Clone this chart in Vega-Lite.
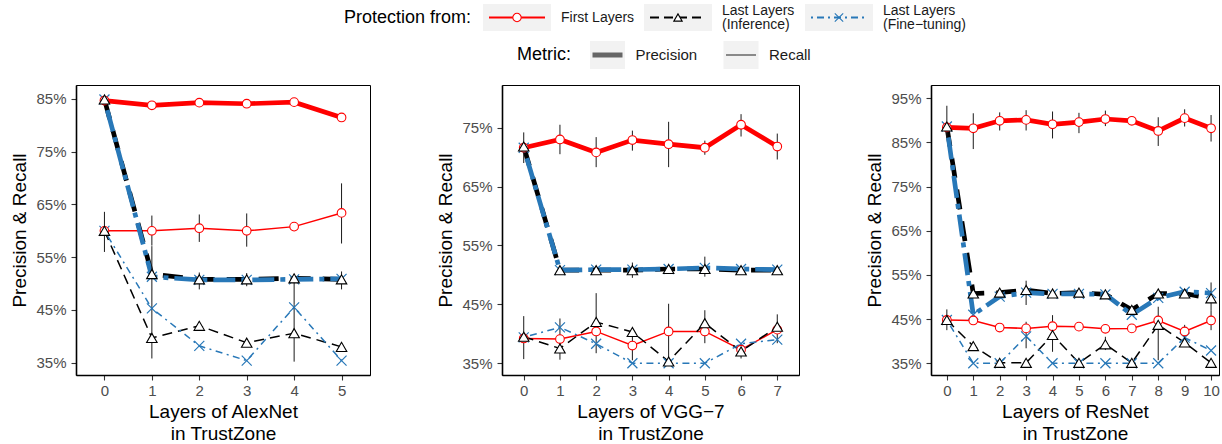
{
  "$schema": "https://vega.github.io/schema/vega-lite/v6.json",
  "background": "white",
  "padding": {"left": 10, "top": 3, "right": 0, "bottom": 0},
  "config": {
    "font": "Liberation Sans",
    "view": {"stroke": "black", "strokeWidth": 1},
    "axis": {"grid": false, "labelFont": "Liberation Sans", "titleFont": "Liberation Sans", "labelFontSize": 15, "labelColor": "#4D4D4D", "titleFontSize": 19, "titleFontWeight": "normal", "titleColor": "black", "tickColor": "#333333", "tickSize": 5, "tickWidth": 1.1, "domainColor": "black", "domainWidth": 1.6, "labelPadding": 3},
    "axisX": {"titlePadding": 4, "titleLineHeight": 22},
    "axisY": {"titlePadding": 6, "labelPadding": 5},
    "text": {"font": "Liberation Sans"}
  },
  "datasets": {
    "results": [
      {"net":"AlexNet","layer":0,"protection":"First Layers","metric":"Precision","value":84.7},
      {"net":"AlexNet","layer":1,"protection":"First Layers","metric":"Precision","value":83.8},
      {"net":"AlexNet","layer":2,"protection":"First Layers","metric":"Precision","value":84.3},
      {"net":"AlexNet","layer":3,"protection":"First Layers","metric":"Precision","value":84.1},
      {"net":"AlexNet","layer":4,"protection":"First Layers","metric":"Precision","value":84.4},
      {"net":"AlexNet","layer":5,"protection":"First Layers","metric":"Precision","value":81.5},
      {"net":"AlexNet","layer":0,"protection":"Last Layers (Inference)","metric":"Precision","value":84.9},
      {"net":"AlexNet","layer":1,"protection":"Last Layers (Inference)","metric":"Precision","value":51.8,"low":46.5,"high":57.1},
      {"net":"AlexNet","layer":2,"protection":"Last Layers (Inference)","metric":"Precision","value":50.8,"low":48.9,"high":52.1},
      {"net":"AlexNet","layer":3,"protection":"Last Layers (Inference)","metric":"Precision","value":50.8,"low":49.5,"high":52.0},
      {"net":"AlexNet","layer":4,"protection":"Last Layers (Inference)","metric":"Precision","value":51.0,"low":46.0,"high":51.5},
      {"net":"AlexNet","layer":5,"protection":"Last Layers (Inference)","metric":"Precision","value":50.8,"low":48.9,"high":52.3},
      {"net":"AlexNet","layer":0,"protection":"Last Layers (Fine-tuning)","metric":"Precision","value":84.9},
      {"net":"AlexNet","layer":1,"protection":"Last Layers (Fine-tuning)","metric":"Precision","value":51.3},
      {"net":"AlexNet","layer":2,"protection":"Last Layers (Fine-tuning)","metric":"Precision","value":50.7},
      {"net":"AlexNet","layer":3,"protection":"Last Layers (Fine-tuning)","metric":"Precision","value":50.7},
      {"net":"AlexNet","layer":4,"protection":"Last Layers (Fine-tuning)","metric":"Precision","value":50.8},
      {"net":"AlexNet","layer":5,"protection":"Last Layers (Fine-tuning)","metric":"Precision","value":50.9},
      {"net":"AlexNet","layer":0,"protection":"First Layers","metric":"Recall","value":60.0,"low":56.0,"high":63.6},
      {"net":"AlexNet","layer":1,"protection":"First Layers","metric":"Recall","value":60.0,"low":57.2,"high":62.9},
      {"net":"AlexNet","layer":2,"protection":"First Layers","metric":"Recall","value":60.5,"low":57.9,"high":63.1},
      {"net":"AlexNet","layer":3,"protection":"First Layers","metric":"Recall","value":60.0,"low":57.0,"high":63.3},
      {"net":"AlexNet","layer":4,"protection":"First Layers","metric":"Recall","value":60.8},
      {"net":"AlexNet","layer":5,"protection":"First Layers","metric":"Recall","value":63.4,"low":57.6,"high":69.0},
      {"net":"AlexNet","layer":0,"protection":"Last Layers (Inference)","metric":"Recall","value":60.0},
      {"net":"AlexNet","layer":1,"protection":"Last Layers (Inference)","metric":"Recall","value":39.7,"low":35.8,"high":46.5},
      {"net":"AlexNet","layer":2,"protection":"Last Layers (Inference)","metric":"Recall","value":42.0},
      {"net":"AlexNet","layer":3,"protection":"Last Layers (Inference)","metric":"Recall","value":38.8},
      {"net":"AlexNet","layer":4,"protection":"Last Layers (Inference)","metric":"Recall","value":40.6,"low":35.2,"high":46.0},
      {"net":"AlexNet","layer":5,"protection":"Last Layers (Inference)","metric":"Recall","value":38.0},
      {"net":"AlexNet","layer":0,"protection":"Last Layers (Fine-tuning)","metric":"Recall","value":60.0},
      {"net":"AlexNet","layer":1,"protection":"Last Layers (Fine-tuning)","metric":"Recall","value":45.3},
      {"net":"AlexNet","layer":2,"protection":"Last Layers (Fine-tuning)","metric":"Recall","value":38.2},
      {"net":"AlexNet","layer":3,"protection":"Last Layers (Fine-tuning)","metric":"Recall","value":35.4},
      {"net":"AlexNet","layer":4,"protection":"Last Layers (Fine-tuning)","metric":"Recall","value":45.5},
      {"net":"AlexNet","layer":5,"protection":"Last Layers (Fine-tuning)","metric":"Recall","value":35.4},

      {"net":"VGG","layer":0,"protection":"First Layers","metric":"Precision","value":71.6,"low":69.0,"high":74.2},
      {"net":"VGG","layer":1,"protection":"First Layers","metric":"Precision","value":73.0,"low":70.5,"high":75.5},
      {"net":"VGG","layer":2,"protection":"First Layers","metric":"Precision","value":70.8,"low":68.3,"high":73.4},
      {"net":"VGG","layer":3,"protection":"First Layers","metric":"Precision","value":72.9,"low":71.1,"high":74.5},
      {"net":"VGG","layer":4,"protection":"First Layers","metric":"Precision","value":72.2,"low":68.3,"high":76.0},
      {"net":"VGG","layer":5,"protection":"First Layers","metric":"Precision","value":71.6,"low":70.4,"high":72.8},
      {"net":"VGG","layer":6,"protection":"First Layers","metric":"Precision","value":75.5,"low":73.5,"high":77.3},
      {"net":"VGG","layer":7,"protection":"First Layers","metric":"Precision","value":71.8,"low":69.6,"high":74.0},
      {"net":"VGG","layer":0,"protection":"Last Layers (Inference)","metric":"Precision","value":71.8},
      {"net":"VGG","layer":1,"protection":"Last Layers (Inference)","metric":"Precision","value":50.8},
      {"net":"VGG","layer":2,"protection":"Last Layers (Inference)","metric":"Precision","value":50.8},
      {"net":"VGG","layer":3,"protection":"Last Layers (Inference)","metric":"Precision","value":50.8,"low":49.5,"high":52.1},
      {"net":"VGG","layer":4,"protection":"Last Layers (Inference)","metric":"Precision","value":51.0},
      {"net":"VGG","layer":5,"protection":"Last Layers (Inference)","metric":"Precision","value":51.0,"low":49.7,"high":53.1},
      {"net":"VGG","layer":6,"protection":"Last Layers (Inference)","metric":"Precision","value":50.8},
      {"net":"VGG","layer":7,"protection":"Last Layers (Inference)","metric":"Precision","value":50.8},
      {"net":"VGG","layer":0,"protection":"Last Layers (Fine-tuning)","metric":"Precision","value":71.6},
      {"net":"VGG","layer":1,"protection":"Last Layers (Fine-tuning)","metric":"Precision","value":50.8},
      {"net":"VGG","layer":2,"protection":"Last Layers (Fine-tuning)","metric":"Precision","value":50.9},
      {"net":"VGG","layer":3,"protection":"Last Layers (Fine-tuning)","metric":"Precision","value":50.9},
      {"net":"VGG","layer":4,"protection":"Last Layers (Fine-tuning)","metric":"Precision","value":51.0},
      {"net":"VGG","layer":5,"protection":"Last Layers (Fine-tuning)","metric":"Precision","value":51.2},
      {"net":"VGG","layer":6,"protection":"Last Layers (Fine-tuning)","metric":"Precision","value":51.0},
      {"net":"VGG","layer":7,"protection":"Last Layers (Fine-tuning)","metric":"Precision","value":50.9},
      {"net":"VGG","layer":0,"protection":"First Layers","metric":"Recall","value":39.2},
      {"net":"VGG","layer":1,"protection":"First Layers","metric":"Recall","value":39.1},
      {"net":"VGG","layer":2,"protection":"First Layers","metric":"Recall","value":40.4},
      {"net":"VGG","layer":3,"protection":"First Layers","metric":"Recall","value":38.0,"low":35.5,"high":40.5},
      {"net":"VGG","layer":4,"protection":"First Layers","metric":"Recall","value":40.4},
      {"net":"VGG","layer":5,"protection":"First Layers","metric":"Recall","value":40.4},
      {"net":"VGG","layer":6,"protection":"First Layers","metric":"Recall","value":37.3},
      {"net":"VGG","layer":7,"protection":"First Layers","metric":"Recall","value":40.7},
      {"net":"VGG","layer":0,"protection":"Last Layers (Inference)","metric":"Recall","value":39.5,"low":35.7,"high":43.0},
      {"net":"VGG","layer":1,"protection":"Last Layers (Inference)","metric":"Recall","value":37.5,"low":35.6,"high":42.6},
      {"net":"VGG","layer":2,"protection":"Last Layers (Inference)","metric":"Recall","value":42.0,"low":36.7,"high":46.9},
      {"net":"VGG","layer":3,"protection":"Last Layers (Inference)","metric":"Recall","value":40.3},
      {"net":"VGG","layer":4,"protection":"Last Layers (Inference)","metric":"Recall","value":35.3,"low":34.7,"high":45.1},
      {"net":"VGG","layer":5,"protection":"Last Layers (Inference)","metric":"Recall","value":41.8,"low":38.4,"high":44.0},
      {"net":"VGG","layer":6,"protection":"Last Layers (Inference)","metric":"Recall","value":37.0,"low":35.8,"high":37.8},
      {"net":"VGG","layer":7,"protection":"Last Layers (Inference)","metric":"Recall","value":41.2,"low":38.4,"high":43.3},
      {"net":"VGG","layer":0,"protection":"Last Layers (Fine-tuning)","metric":"Recall","value":39.4},
      {"net":"VGG","layer":1,"protection":"Last Layers (Fine-tuning)","metric":"Recall","value":41.1},
      {"net":"VGG","layer":2,"protection":"Last Layers (Fine-tuning)","metric":"Recall","value":38.3},
      {"net":"VGG","layer":3,"protection":"Last Layers (Fine-tuning)","metric":"Recall","value":35.0},
      {"net":"VGG","layer":4,"protection":"Last Layers (Fine-tuning)","metric":"Recall","value":35.0},
      {"net":"VGG","layer":5,"protection":"Last Layers (Fine-tuning)","metric":"Recall","value":35.0},
      {"net":"VGG","layer":6,"protection":"Last Layers (Fine-tuning)","metric":"Recall","value":38.3},
      {"net":"VGG","layer":7,"protection":"Last Layers (Fine-tuning)","metric":"Recall","value":39.0},

      {"net":"ResNet","layer":0,"protection":"First Layers","metric":"Precision","value":88.4,"low":86.0,"high":93.3},
      {"net":"ResNet","layer":1,"protection":"First Layers","metric":"Precision","value":88.2,"low":83.5,"high":91.6},
      {"net":"ResNet","layer":2,"protection":"First Layers","metric":"Precision","value":89.9,"low":87.7,"high":91.8},
      {"net":"ResNet","layer":3,"protection":"First Layers","metric":"Precision","value":90.1,"low":87.7,"high":92.3},
      {"net":"ResNet","layer":4,"protection":"First Layers","metric":"Precision","value":89.1,"low":85.9,"high":92.0},
      {"net":"ResNet","layer":5,"protection":"First Layers","metric":"Precision","value":89.6,"low":87.1,"high":91.7},
      {"net":"ResNet","layer":6,"protection":"First Layers","metric":"Precision","value":90.3,"low":88.7,"high":92.2},
      {"net":"ResNet","layer":7,"protection":"First Layers","metric":"Precision","value":89.9},
      {"net":"ResNet","layer":8,"protection":"First Layers","metric":"Precision","value":87.6,"low":84.2,"high":90.7},
      {"net":"ResNet","layer":9,"protection":"First Layers","metric":"Precision","value":90.5,"low":88.6,"high":92.5},
      {"net":"ResNet","layer":10,"protection":"First Layers","metric":"Precision","value":88.2,"low":85.2,"high":91.2},
      {"net":"ResNet","layer":0,"protection":"Last Layers (Inference)","metric":"Precision","value":88.6},
      {"net":"ResNet","layer":1,"protection":"Last Layers (Inference)","metric":"Precision","value":50.8},
      {"net":"ResNet","layer":2,"protection":"Last Layers (Inference)","metric":"Precision","value":51.0},
      {"net":"ResNet","layer":3,"protection":"Last Layers (Inference)","metric":"Precision","value":51.6,"low":48.2,"high":53.7},
      {"net":"ResNet","layer":4,"protection":"Last Layers (Inference)","metric":"Precision","value":50.8},
      {"net":"ResNet","layer":5,"protection":"Last Layers (Inference)","metric":"Precision","value":51.0},
      {"net":"ResNet","layer":6,"protection":"Last Layers (Inference)","metric":"Precision","value":50.6},
      {"net":"ResNet","layer":7,"protection":"Last Layers (Inference)","metric":"Precision","value":47.1},
      {"net":"ResNet","layer":8,"protection":"Last Layers (Inference)","metric":"Precision","value":50.8},
      {"net":"ResNet","layer":9,"protection":"Last Layers (Inference)","metric":"Precision","value":50.8},
      {"net":"ResNet","layer":10,"protection":"Last Layers (Inference)","metric":"Precision","value":49.7,"low":47.0,"high":53.3},
      {"net":"ResNet","layer":0,"protection":"Last Layers (Fine-tuning)","metric":"Precision","value":88.6},
      {"net":"ResNet","layer":1,"protection":"Last Layers (Fine-tuning)","metric":"Precision","value":46.0},
      {"net":"ResNet","layer":2,"protection":"Last Layers (Fine-tuning)","metric":"Precision","value":50.1},
      {"net":"ResNet","layer":3,"protection":"Last Layers (Fine-tuning)","metric":"Precision","value":51.0},
      {"net":"ResNet","layer":4,"protection":"Last Layers (Fine-tuning)","metric":"Precision","value":50.7},
      {"net":"ResNet","layer":5,"protection":"Last Layers (Fine-tuning)","metric":"Precision","value":50.7},
      {"net":"ResNet","layer":6,"protection":"Last Layers (Fine-tuning)","metric":"Precision","value":50.6},
      {"net":"ResNet","layer":7,"protection":"Last Layers (Fine-tuning)","metric":"Precision","value":46.0},
      {"net":"ResNet","layer":8,"protection":"Last Layers (Fine-tuning)","metric":"Precision","value":49.8},
      {"net":"ResNet","layer":9,"protection":"Last Layers (Fine-tuning)","metric":"Precision","value":51.2},
      {"net":"ResNet","layer":10,"protection":"Last Layers (Fine-tuning)","metric":"Precision","value":50.9},
      {"net":"ResNet","layer":0,"protection":"First Layers","metric":"Recall","value":44.8},
      {"net":"ResNet","layer":1,"protection":"First Layers","metric":"Recall","value":44.7},
      {"net":"ResNet","layer":2,"protection":"First Layers","metric":"Recall","value":43.1},
      {"net":"ResNet","layer":3,"protection":"First Layers","metric":"Recall","value":42.9,"low":38.4,"high":44.4},
      {"net":"ResNet","layer":4,"protection":"First Layers","metric":"Recall","value":43.4},
      {"net":"ResNet","layer":5,"protection":"First Layers","metric":"Recall","value":43.3},
      {"net":"ResNet","layer":6,"protection":"First Layers","metric":"Recall","value":42.8},
      {"net":"ResNet","layer":7,"protection":"First Layers","metric":"Recall","value":42.9},
      {"net":"ResNet","layer":8,"protection":"First Layers","metric":"Recall","value":44.7},
      {"net":"ResNet","layer":9,"protection":"First Layers","metric":"Recall","value":42.2},
      {"net":"ResNet","layer":10,"protection":"First Layers","metric":"Recall","value":44.7,"low":42.5,"high":47.0},
      {"net":"ResNet","layer":0,"protection":"Last Layers (Inference)","metric":"Recall","value":44.8,"low":42.5,"high":47.2},
      {"net":"ResNet","layer":1,"protection":"Last Layers (Inference)","metric":"Recall","value":38.9},
      {"net":"ResNet","layer":2,"protection":"Last Layers (Inference)","metric":"Recall","value":35.1},
      {"net":"ResNet","layer":3,"protection":"Last Layers (Inference)","metric":"Recall","value":35.1},
      {"net":"ResNet","layer":4,"protection":"Last Layers (Inference)","metric":"Recall","value":41.4,"low":37.6,"high":45.9},
      {"net":"ResNet","layer":5,"protection":"Last Layers (Inference)","metric":"Recall","value":35.1},
      {"net":"ResNet","layer":6,"protection":"Last Layers (Inference)","metric":"Recall","value":39.3,"low":38.0,"high":41.0},
      {"net":"ResNet","layer":7,"protection":"Last Layers (Inference)","metric":"Recall","value":35.1},
      {"net":"ResNet","layer":8,"protection":"Last Layers (Inference)","metric":"Recall","value":43.7,"low":35.7,"high":47.8},
      {"net":"ResNet","layer":9,"protection":"Last Layers (Inference)","metric":"Recall","value":39.7,"low":39.1,"high":43.7},
      {"net":"ResNet","layer":10,"protection":"Last Layers (Inference)","metric":"Recall","value":35.1},
      {"net":"ResNet","layer":0,"protection":"Last Layers (Fine-tuning)","metric":"Recall","value":44.8},
      {"net":"ResNet","layer":1,"protection":"Last Layers (Fine-tuning)","metric":"Recall","value":35.0},
      {"net":"ResNet","layer":2,"protection":"Last Layers (Fine-tuning)","metric":"Recall","value":35.0},
      {"net":"ResNet","layer":3,"protection":"Last Layers (Fine-tuning)","metric":"Recall","value":41.1},
      {"net":"ResNet","layer":4,"protection":"Last Layers (Fine-tuning)","metric":"Recall","value":35.0},
      {"net":"ResNet","layer":5,"protection":"Last Layers (Fine-tuning)","metric":"Recall","value":35.0},
      {"net":"ResNet","layer":6,"protection":"Last Layers (Fine-tuning)","metric":"Recall","value":35.0},
      {"net":"ResNet","layer":7,"protection":"Last Layers (Fine-tuning)","metric":"Recall","value":35.0},
      {"net":"ResNet","layer":8,"protection":"Last Layers (Fine-tuning)","metric":"Recall","value":35.0},
      {"net":"ResNet","layer":9,"protection":"Last Layers (Fine-tuning)","metric":"Recall","value":40.8},
      {"net":"ResNet","layer":10,"protection":"Last Layers (Fine-tuning)","metric":"Recall","value":37.9}
    ]
  },
  "spacing": 15,
  "bounds": "full",
  "vconcat": [
    {
      "spacing": 10,
      "bounds": "flush",
      "vconcat": [
        {
          "width": 900, "height": 27,
          "view": {"stroke": null},
          "data": {"values": [
            {"item": "Protection from:", "label": "Protection from:", "kind": "title"},
            {"item": "First Layers", "label": "First Layers", "kind": "key"},
            {"item": "Last Layers (Inference)", "label": "Last Layers\n(Inference)", "kind": "key"},
            {"item": "Last Layers (Fine-tuning)", "label": "Last Layers\n(Fine−tuning)", "kind": "key"}
          ]},
          "encoding": {"x": {"field": "item", "type": "nominal", "scale": {"type": "point", "padding": 0, "domain": ["Protection from:", "First Layers", "Last Layers (Inference)", "Last Layers (Fine-tuning)"], "range": [280, 763]}, "axis": null}},
          "layer": [
            {"transform": [{"filter": "datum.kind === 'key'"}], "mark": {"type": "rect", "color": "#F2F2F2", "xOffset": -34, "x2Offset": 34}, "encoding": {"x2": {"field": "item"}}},
            {"transform": [{"filter": "datum.kind === 'key'"}], "mark": {"type": "point", "shape": "M-1,0H1", "size": 3136, "filled": false, "strokeWidth": 2.2, "opacity": 1},
             "encoding": {
               "stroke": {"field": "item", "type": "nominal", "scale": {"domain": ["First Layers", "Last Layers (Inference)", "Last Layers (Fine-tuning)"], "range": ["#FF0000", "#000000", "#2878B8"]}, "legend": null},
               "strokeDash": {"field": "item", "type": "nominal", "scale": {"domain": ["First Layers", "Last Layers (Inference)", "Last Layers (Fine-tuning)"], "range": [[1, 0], [9, 5], [2, 4, 7, 4]]}, "legend": null}
             }},
            {"transform": [{"filter": "datum.kind === 'key'"}], "mark": {"type": "point", "size": 70, "strokeWidth": 1.1, "opacity": 1},
             "encoding": {
               "shape": {"field": "item", "type": "nominal", "scale": {"domain": ["First Layers", "Last Layers (Inference)", "Last Layers (Fine-tuning)"], "range": ["circle", "triangle-up", "M-1,-1L1,1M-1,1L1,-1"]}, "legend": null},
               "fill": {"field": "item", "type": "nominal", "scale": {"domain": ["First Layers", "Last Layers (Inference)", "Last Layers (Fine-tuning)"], "range": ["#FFFFFF", "#FFFFFF", "transparent"]}, "legend": null},
               "stroke": {"field": "item", "type": "nominal", "legend": null}
             }},
            {"transform": [{"filter": "datum.item === 'First Layers'"}], "mark": {"type": "text", "align": "left", "dx": 44, "fontSize": 14, "color": "#1A1A1A"}, "encoding": {"text": {"field": "label"}}},
            {"transform": [{"filter": "datum.kind === 'key' && datum.item !== 'First Layers'"}], "mark": {"type": "text", "align": "left", "dx": 44, "dy": -7, "fontSize": 14, "lineBreak": "\n", "lineHeight": 14.5, "color": "#1A1A1A"}, "encoding": {"text": {"field": "label"}}},
            {"transform": [{"filter": "datum.kind === 'title'"}], "mark": {"type": "text", "align": "left", "dx": -12, "fontSize": 18, "color": "#000000"}, "encoding": {"text": {"field": "label"}}}
          ]
        },
        {
          "width": 900, "height": 28,
          "view": {"stroke": null},
          "data": {"values": [
            {"item": "Metric:", "label": "Metric:", "kind": "title"},
            {"item": "Precision", "label": "Precision", "kind": "key"},
            {"item": "Recall", "label": "Recall", "kind": "key"}
          ]},
          "encoding": {"x": {"field": "item", "type": "nominal", "scale": {"type": "point", "padding": 0, "domain": ["Metric:", "Precision", "Recall"], "range": [398, 665]}, "axis": null}},
          "layer": [
            {"transform": [{"filter": "datum.kind === 'key'"}], "mark": {"type": "rect", "color": "#F2F2F2", "xOffset": -17.5, "x2Offset": 17.5}, "encoding": {"x2": {"field": "item"}}},
            {"transform": [{"filter": "datum.kind === 'key'"}], "mark": {"type": "point", "shape": "M-1,0H1", "size": 900, "filled": false, "stroke": "#666666", "opacity": 1},
             "encoding": {"strokeWidth": {"field": "item", "type": "nominal", "scale": {"domain": ["Precision", "Recall"], "range": [5, 1.5]}, "legend": null}}},
            {"transform": [{"filter": "datum.kind === 'key'"}], "mark": {"type": "text", "align": "left", "dx": 28, "fontSize": 15, "color": "#1A1A1A"}, "encoding": {"text": {"field": "label"}}},
            {"transform": [{"filter": "datum.kind === 'title'"}], "mark": {"type": "text", "align": "left", "dx": 43, "fontSize": 18, "color": "#000000"}, "encoding": {"text": {"field": "label"}}}
          ]
        }
      ]
    },
    {
      "spacing": 132,
      "bounds": "flush",
      "hconcat": [
        {
          "width": 294, "height": 290,
          "data": {"name": "results"},
          "transform": [{"filter": "datum.net === 'AlexNet'"}],
          "encoding": {
            "x": {"field": "layer", "type": "quantitative", "scale": {"domain": [-0.6, 5.6], "nice": false, "zero": false}, "axis": {"values": [0, 1, 2, 3, 4, 5], "format": "d", "title": ["Layers of AlexNet", "in TrustZone"]}},
            "y": {"field": "value", "type": "quantitative", "scale": {"domain": [32.67, 87.65], "nice": false, "zero": false}, "axis": {"values": [35, 45, 55, 65, 75, 85], "labelExpr": "datum.value + '%'", "title": "Precision & Recall"}}
          },
          "layer": [
            {"data": {"values": [{"level": 50}]}, "mark": {"type": "rule", "color": "black", "strokeDash": [6, 4], "strokeWidth": 1.4},
             "encoding": {"x": {"datum": -0.6, "type": "quantitative"}, "x2": {"datum": 5.6}, "y": {"field": "level", "type": "quantitative", "title": "Precision & Recall"}}},
            {"transform": [{"filter": "datum.protection === 'First Layers' && datum.metric === 'Recall'"}], "mark": {"type": "line", "color": "#FF0000", "strokeWidth": 1.5}},
            {"transform": [{"filter": "datum.protection === 'Last Layers (Inference)' && datum.metric === 'Recall'"}], "mark": {"type": "line", "color": "#000000", "strokeWidth": 1.5, "strokeDash": [10, 6]}},
            {"transform": [{"filter": "datum.protection === 'Last Layers (Fine-tuning)' && datum.metric === 'Recall'"}], "mark": {"type": "line", "color": "#2878B8", "strokeWidth": 1.5, "strokeDash": [2, 4.5, 7, 4.5]}},
            {"transform": [{"filter": "datum.protection === 'First Layers' && datum.metric === 'Precision'"}], "mark": {"type": "line", "color": "#FF0000", "strokeWidth": 4.7}},
            {"transform": [{"filter": "datum.protection === 'Last Layers (Inference)' && datum.metric === 'Precision'"}], "mark": {"type": "line", "color": "#000000", "strokeWidth": 4.7, "strokeDash": [20, 12]}},
            {"transform": [{"filter": "datum.protection === 'Last Layers (Fine-tuning)' && datum.metric === 'Precision'"}], "mark": {"type": "line", "color": "#2878B8", "strokeWidth": 4.7, "strokeDash": [5, 6, 22, 6]}},
            {"transform": [{"filter": "isValid(datum.low)"}], "mark": {"type": "rule", "color": "#1A1A1A", "strokeWidth": 1},
             "encoding": {"y": {"field": "low", "type": "quantitative", "title": "Precision & Recall"}, "y2": {"field": "high"}}},
            {"transform": [{"filter": "datum.protection === 'Last Layers (Fine-tuning)'"}], "mark": {"type": "point", "shape": "M-1,-1L1,1M-1,1L1,-1", "size": 100, "filled": false, "stroke": "#2878B8", "strokeWidth": 1.2, "opacity": 1}},
            {"transform": [{"filter": "datum.protection === 'First Layers'"}], "mark": {"type": "point", "shape": "circle", "size": 75, "filled": true, "fill": "#FFFFFF", "stroke": "#FF0000", "strokeWidth": 1.1, "opacity": 1}},
            {"transform": [{"filter": "datum.protection === 'Last Layers (Inference)'"}], "mark": {"type": "point", "shape": "triangle-up", "size": 110, "filled": true, "fill": "#FFFFFF", "stroke": "#000000", "strokeWidth": 1.1, "opacity": 1}}
          ]
        },
        {
          "width": 297, "height": 290,
          "data": {"name": "results"},
          "transform": [{"filter": "datum.net === 'VGG'"}],
          "encoding": {
            "x": {"field": "layer", "type": "quantitative", "scale": {"domain": [-0.6, 7.6], "nice": false, "zero": false}, "axis": {"values": [0, 1, 2, 3, 4, 5, 6, 7], "format": "d", "title": ["Layers of VGG−7", "in TrustZone"]}},
            "y": {"field": "value", "type": "quantitative", "scale": {"domain": [33.0, 82.25], "nice": false, "zero": false}, "axis": {"values": [35, 45, 55, 65, 75], "labelExpr": "datum.value + '%'", "title": "Precision & Recall"}}
          },
          "layer": [
            {"data": {"values": [{"level": 50}]}, "mark": {"type": "rule", "color": "black", "strokeDash": [6, 4], "strokeWidth": 1.4},
             "encoding": {"x": {"datum": -0.6, "type": "quantitative"}, "x2": {"datum": 7.6}, "y": {"field": "level", "type": "quantitative", "title": "Precision & Recall"}}},
            {"transform": [{"filter": "datum.protection === 'First Layers' && datum.metric === 'Recall'"}], "mark": {"type": "line", "color": "#FF0000", "strokeWidth": 1.5}},
            {"transform": [{"filter": "datum.protection === 'Last Layers (Inference)' && datum.metric === 'Recall'"}], "mark": {"type": "line", "color": "#000000", "strokeWidth": 1.5, "strokeDash": [10, 6]}},
            {"transform": [{"filter": "datum.protection === 'Last Layers (Fine-tuning)' && datum.metric === 'Recall'"}], "mark": {"type": "line", "color": "#2878B8", "strokeWidth": 1.5, "strokeDash": [2, 4.5, 7, 4.5]}},
            {"transform": [{"filter": "datum.protection === 'First Layers' && datum.metric === 'Precision'"}], "mark": {"type": "line", "color": "#FF0000", "strokeWidth": 4.7}},
            {"transform": [{"filter": "datum.protection === 'Last Layers (Inference)' && datum.metric === 'Precision'"}], "mark": {"type": "line", "color": "#000000", "strokeWidth": 4.7, "strokeDash": [20, 12]}},
            {"transform": [{"filter": "datum.protection === 'Last Layers (Fine-tuning)' && datum.metric === 'Precision'"}], "mark": {"type": "line", "color": "#2878B8", "strokeWidth": 4.7, "strokeDash": [5, 6, 22, 6]}},
            {"transform": [{"filter": "isValid(datum.low)"}], "mark": {"type": "rule", "color": "#1A1A1A", "strokeWidth": 1},
             "encoding": {"y": {"field": "low", "type": "quantitative", "title": "Precision & Recall"}, "y2": {"field": "high"}}},
            {"transform": [{"filter": "datum.protection === 'Last Layers (Fine-tuning)'"}], "mark": {"type": "point", "shape": "M-1,-1L1,1M-1,1L1,-1", "size": 100, "filled": false, "stroke": "#2878B8", "strokeWidth": 1.2, "opacity": 1}},
            {"transform": [{"filter": "datum.protection === 'First Layers'"}], "mark": {"type": "point", "shape": "circle", "size": 75, "filled": true, "fill": "#FFFFFF", "stroke": "#FF0000", "strokeWidth": 1.1, "opacity": 1}},
            {"transform": [{"filter": "datum.protection === 'Last Layers (Inference)'"}], "mark": {"type": "point", "shape": "triangle-up", "size": 110, "filled": true, "fill": "#FFFFFF", "stroke": "#000000", "strokeWidth": 1.1, "opacity": 1}}
          ]
        },
        {
          "width": 288, "height": 290,
          "data": {"name": "results"},
          "transform": [{"filter": "datum.net === 'ResNet'"}],
          "encoding": {
            "x": {"field": "layer", "type": "quantitative", "scale": {"domain": [-0.6, 10.3], "nice": false, "zero": false}, "axis": {"values": [0, 1, 2, 3, 4, 5, 6, 7, 8, 9, 10], "format": "d", "title": ["Layers of ResNet", "in TrustZone"]}},
            "y": {"field": "value", "type": "quantitative", "scale": {"domain": [32.35, 98.0], "nice": false, "zero": false}, "axis": {"values": [35, 45, 55, 65, 75, 85, 95], "labelExpr": "datum.value + '%'", "title": "Precision & Recall"}}
          },
          "layer": [
            {"data": {"values": [{"level": 50}]}, "mark": {"type": "rule", "color": "black", "strokeDash": [6, 4], "strokeWidth": 1.4},
             "encoding": {"x": {"datum": -0.6, "type": "quantitative"}, "x2": {"datum": 10.3}, "y": {"field": "level", "type": "quantitative", "title": "Precision & Recall"}}},
            {"transform": [{"filter": "datum.protection === 'First Layers' && datum.metric === 'Recall'"}], "mark": {"type": "line", "color": "#FF0000", "strokeWidth": 1.5}},
            {"transform": [{"filter": "datum.protection === 'Last Layers (Inference)' && datum.metric === 'Recall'"}], "mark": {"type": "line", "color": "#000000", "strokeWidth": 1.5, "strokeDash": [10, 6]}},
            {"transform": [{"filter": "datum.protection === 'Last Layers (Fine-tuning)' && datum.metric === 'Recall'"}], "mark": {"type": "line", "color": "#2878B8", "strokeWidth": 1.5, "strokeDash": [2, 4.5, 7, 4.5]}},
            {"transform": [{"filter": "datum.protection === 'First Layers' && datum.metric === 'Precision'"}], "mark": {"type": "line", "color": "#FF0000", "strokeWidth": 4.7}},
            {"transform": [{"filter": "datum.protection === 'Last Layers (Inference)' && datum.metric === 'Precision'"}], "mark": {"type": "line", "color": "#000000", "strokeWidth": 4.7, "strokeDash": [20, 12]}},
            {"transform": [{"filter": "datum.protection === 'Last Layers (Fine-tuning)' && datum.metric === 'Precision'"}], "mark": {"type": "line", "color": "#2878B8", "strokeWidth": 4.7, "strokeDash": [5, 6, 22, 6]}},
            {"transform": [{"filter": "isValid(datum.low)"}], "mark": {"type": "rule", "color": "#1A1A1A", "strokeWidth": 1},
             "encoding": {"y": {"field": "low", "type": "quantitative", "title": "Precision & Recall"}, "y2": {"field": "high"}}},
            {"transform": [{"filter": "datum.protection === 'Last Layers (Fine-tuning)'"}], "mark": {"type": "point", "shape": "M-1,-1L1,1M-1,1L1,-1", "size": 100, "filled": false, "stroke": "#2878B8", "strokeWidth": 1.2, "opacity": 1}},
            {"transform": [{"filter": "datum.protection === 'First Layers'"}], "mark": {"type": "point", "shape": "circle", "size": 75, "filled": true, "fill": "#FFFFFF", "stroke": "#FF0000", "strokeWidth": 1.1, "opacity": 1}},
            {"transform": [{"filter": "datum.protection === 'Last Layers (Inference)'"}], "mark": {"type": "point", "shape": "triangle-up", "size": 110, "filled": true, "fill": "#FFFFFF", "stroke": "#000000", "strokeWidth": 1.1, "opacity": 1}}
          ]
        }
      ]
    }
  ]
}
